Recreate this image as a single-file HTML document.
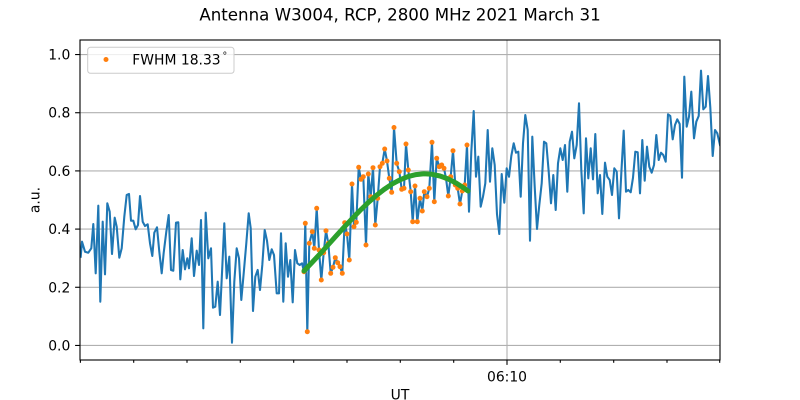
<!DOCTYPE html>
<html>
<head>
<meta charset="utf-8">
<style>
html,body{margin:0;padding:0;background:#fff;}
svg{display:block;}
text{font-family:"DejaVu Sans","Liberation Sans",sans-serif;fill:#000;}
</style>
</head>
<body>
<svg width="800" height="400" viewBox="0 0 800 400" xmlns="http://www.w3.org/2000/svg">
<rect x="0" y="0" width="800" height="400" fill="#fff"/>
<!-- title -->
<text x="400" y="20.5" font-size="16.67" text-anchor="middle">Antenna W3004, RCP, 2800 MHz 2021 March 31</text>

<!-- grid -->
<g stroke="#b0b0b0" stroke-width="1.1">
<line x1="80" y1="345.45" x2="720" y2="345.45"/>
<line x1="80" y1="287.27" x2="720" y2="287.27"/>
<line x1="80" y1="229.09" x2="720" y2="229.09"/>
<line x1="80" y1="170.91" x2="720" y2="170.91"/>
<line x1="80" y1="112.73" x2="720" y2="112.73"/>
<line x1="80" y1="54.55" x2="720" y2="54.55"/>
<line x1="507" y1="40" x2="507" y2="360"/>
</g>

<defs><clipPath id="ax"><rect x="80" y="40" width="640" height="320"/></clipPath></defs>
<g clip-path="url(#ax)">
<polyline fill="none" stroke="#1f77b4" stroke-width="2.08" stroke-linejoin="round" stroke-linecap="square" points="80.7,256.7 82,241.7 85,251.7 88.3,252.7 91.3,248.3 93.3,224 95.7,273.3 98.3,205.7 100.3,301.7 102.7,221.7 105,274.3 107.3,203.3 109.7,211.7 112,254 114.7,217.7 116.7,226.7 119.3,257.7 121.7,248.3 124.3,216.7 126.7,195 129,194 131,220.7 133.3,220.7 135.7,229.3 138,225 140,196 142.7,221.7 145,226 147.7,224.3 150,243.3 152.3,256 154.3,232.7 157,227.3 159.3,251.7 161.7,273.3 163.7,252.7 166.3,231.7 168.7,215 171,270 173.3,270.7 176,222.7 178.3,222.3 180.3,279.3 182.7,250 185,269.3 187.3,258.3 189,268.3 191.7,238.3 194,276 196.7,250.7 199,265 201,220 203.3,328.3 205.7,212.7 208.3,258.3 211,248.3 213,307.7 215.3,306.7 217.7,281.7 220,315 222.3,266.7 224.3,223.3 226.7,278.3 229.3,256.7 232,342.7 234.3,281.7 236.7,248.3 239,258.3 241.3,300 243.7,273.3 246.3,243.3 248.7,213.3 250.7,228.3 253,311 255.3,276.7 257.7,270 260,290 262.3,265 264.7,230 267,240.7 269.3,260 271.7,249.3 274,255 276.7,293.3 279,293.3 281,233.3 283.3,301.7 285.7,243.3 288,276.7 290.3,260 292.7,302.3 295,250 297.3,263.3 299.7,265 302,263.3 304,271.7 305.3,223.3 307.3,331.7 309.3,243.3 312.3,231.7 314.3,248.3 316.7,208.3 319,250 321.3,280 323.7,252.7 326,230.7 328.3,243.3 330.7,273.3 333,267.3 335.3,257.7 337.7,262.7 340,266.7 342.3,273.3 344.7,222.7 347,234 349.3,260 352,184 354,226.7 356.3,222.3 358.7,167.3 361,179.3 363.3,176.7 366,245 368.3,174 370.7,196.7 373,167.7 375.3,225 377.7,198.3 380,166.7 382.3,163.3 384.7,149 387,161 389.3,178.3 391.7,192.3 394,127.5 396.7,163.3 399.3,171.7 401.7,189.3 404,188.3 406,144 408.3,170 410.7,191.7 412.7,221.7 415,186 417.3,221.7 420,198.3 422.3,211 424.3,191.7 427,196.7 429.3,188.3 432,142.3 434.3,201.7 436.7,158.3 439.3,166.7 441.7,165 444,168.3 446,178.3 448.3,196 450.7,176.7 453,150.7 455.3,185 457.7,188.3 460,204 462.3,191 464.7,185 467,145 469,211.7 471.3,151.7 473.7,111 476,176.7 478.3,156.7 480.7,206.7 483,196.7 485.3,183.3 487.7,130 490,181.7 492.3,148.3 494.7,165 497,214.3 499.3,234 501.7,174 504.3,202.7 506.7,168.3 509,176.7 511.3,156 513.7,143.3 516,152.7 518.3,151.7 520.7,196.7 523,143.3 525.3,115 527.7,130 530,240.7 532.3,136.7 534.7,186.7 537,229 539.3,205 541.7,183.3 544,141.7 546.3,143.3 548.7,171.7 551,203.3 553.3,175 555.7,210 558,163.3 560.3,148.3 562.7,160 565,145 567.3,191.7 569.7,141.7 572,131.7 574.3,158.3 576.7,145 579,103.3 581.3,170 583.7,213.3 586,138.3 588.3,178.3 590.7,148.3 593,179.3 595.3,134 597.7,193.3 600,175 602.3,214 605,162.7 607.3,176.7 609.7,180 612,195 614.3,168.3 616.7,171.7 619,218.3 621.3,173.3 623.7,130.7 626,191.7 628.3,190 630.7,192.3 633,177.7 635.3,151.7 637.7,152.3 640,193.3 642.3,140 644.7,180.7 647,146.7 649.3,166.7 651.7,172.7 654,165 656.3,135 658.7,160 661,152.7 663.3,155 665.7,161.7 668,114.3 670.3,116 672.7,139.3 675,125 677.3,119.3 679.7,124 682,177.7 684.3,76.7 686.7,126.7 689,116.7 691.3,91.7 694,138.3 696.3,121.7 698.7,116 701,70.7 703.3,109.3 705.7,106.7 708,76 710.3,107.3 712.7,156 715,130 717.3,133.3 720,145"/>

<!-- orange points -->
<path fill="none" stroke="#ff7f0e" stroke-width="5" stroke-linecap="round" d="M304 271.7h0M305.3 223.3h0M307.3 331.7h0M309.3 243.3h0M312.3 231.7h0M314.3 248.3h0M316.7 208.3h0M319 250h0M321.3 280h0M323.7 252.7h0M326 230.7h0M328.3 243.3h0M330.7 273.3h0M333 267.3h0M335.3 257.7h0M337.7 262.7h0M340 266.7h0M342.3 273.3h0M344.7 222.7h0M347 234h0M349.3 260h0M352 184h0M354 226.7h0M356.3 222.3h0M358.7 167.3h0M361 179.3h0M363.3 176.7h0M366 245h0M368.3 174h0M370.7 196.7h0M373 167.7h0M375.3 225h0M377.7 198.3h0M380 166.7h0M382.3 163.3h0M384.7 149h0M387 161h0M389.3 178.3h0M391.7 192.3h0M394 127.5h0M396.7 163.3h0M399.3 171.7h0M401.7 189.3h0M404 188.3h0M406 144h0M408.3 170h0M410.7 191.7h0M412.7 221.7h0M415 186h0M417.3 221.7h0M420 198.3h0M422.3 211h0M424.3 191.7h0M427 196.7h0M429.3 188.3h0M432 142.3h0M434.3 201.7h0M436.7 158.3h0M439.3 166.7h0M441.7 165h0M444 168.3h0M446 178.3h0M448.3 196h0M450.7 176.7h0M453 150.7h0M455.3 185h0M457.7 188.3h0M460 204h0M462.3 191h0M464.7 185h0M467 145h0"/>

<!-- green fit -->
<polyline fill="none" stroke="#2ca02c" stroke-width="5" stroke-linejoin="round" stroke-linecap="round" points="304,270.9 312,262.5 320,253.9 328,245.0 336,236.1 344,227.3 352,218.8 360,210.5 368,202.8 376,195.7 384,189.5 392,184.1 400,179.8 408,176.6 416,174.6 424,173.8 432,174.3 440,176.0 448,178.9 456,183.0 464,188.1 468,191.0"/>
</g>

<!-- spines -->
<rect x="80" y="40" width="640" height="320" fill="none" stroke="#000" stroke-width="1.1"/>

<!-- y ticks -->
<g stroke="#000" stroke-width="1.1">
<line x1="75.1" y1="345.45" x2="80" y2="345.45"/>
<line x1="75.1" y1="287.27" x2="80" y2="287.27"/>
<line x1="75.1" y1="229.09" x2="80" y2="229.09"/>
<line x1="75.1" y1="170.91" x2="80" y2="170.91"/>
<line x1="75.1" y1="112.73" x2="80" y2="112.73"/>
<line x1="75.1" y1="54.55" x2="80" y2="54.55"/>
<!-- x ticks -->
<line x1="507" y1="360" x2="507" y2="364.9"/>
<line x1="80.4" y1="360" x2="80.4" y2="362.8"/>
<line x1="133.7" y1="360" x2="133.7" y2="362.8"/>
<line x1="187" y1="360" x2="187" y2="362.8"/>
<line x1="240.3" y1="360" x2="240.3" y2="362.8"/>
<line x1="293.7" y1="360" x2="293.7" y2="362.8"/>
<line x1="347" y1="360" x2="347" y2="362.8"/>
<line x1="400.3" y1="360" x2="400.3" y2="362.8"/>
<line x1="453.7" y1="360" x2="453.7" y2="362.8"/>
<line x1="560.3" y1="360" x2="560.3" y2="362.8"/>
<line x1="613.7" y1="360" x2="613.7" y2="362.8"/>
<line x1="667" y1="360" x2="667" y2="362.8"/>
<line x1="719.7" y1="360" x2="719.7" y2="362.8"/>
</g>

<g font-size="13.9" text-anchor="end">
<text x="70.3" y="350.5">0.0</text>
<text x="70.3" y="292.3">0.2</text>
<text x="70.3" y="234.1">0.4</text>
<text x="70.3" y="175.9">0.6</text>
<text x="70.3" y="117.7">0.8</text>
<text x="70.3" y="59.6">1.0</text>
</g>
<text x="507" y="381.5" font-size="13.9" text-anchor="middle">06:10</text>
<text x="400" y="399.5" font-size="13.9" text-anchor="middle">UT</text>
<text transform="translate(39.5,200) rotate(-90)" font-size="13.9" text-anchor="middle">a.u.</text>

<!-- legend -->
<rect x="87.7" y="47.3" width="146.3" height="26" rx="2.8" ry="2.8" fill="#fff" fill-opacity="0.8" stroke="#cccccc" stroke-width="1"/>
<circle cx="106" cy="59.5" r="2.5" fill="#ff7f0e"/>
<text x="132.3" y="64.3" font-size="13.9">FWHM 18.33</text>
<text x="222.5" y="59" font-size="9.5">°</text>
</svg>
</body>
</html>
